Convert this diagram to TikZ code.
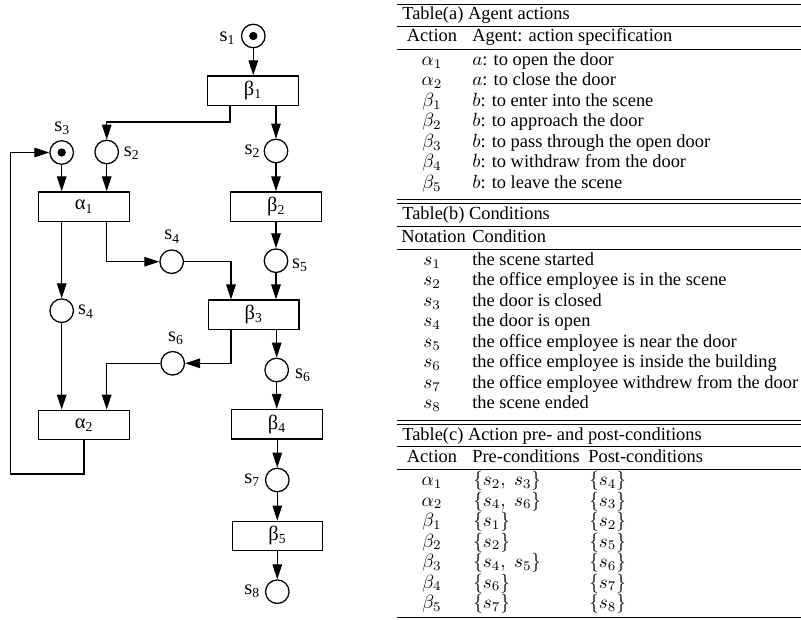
\RequirePackage{fix-cm}
\documentclass[tikz,border=0pt]{standalone}
\usepackage[no-math]{fontspec}
\setmainfont{Liberation Serif}
\DeclareMathSizes{10.8}{11.2}{7.8}{5.8}
\usetikzlibrary{arrows.meta,calc}
\begin{document}
\begin{tikzpicture}[x=0.58651pt,y=-0.58651pt,
  place/.style={circle,draw,line width=0.75pt,minimum size=13.8pt,inner sep=0pt},
  token/.style={circle,fill=black,minimum size=4.9pt,inner sep=0pt},
  trans/.style={rectangle,draw,line width=0.75pt,minimum width=53.2pt,minimum height=17.3pt,inner sep=0pt,font=\fontsize{12}{14}\selectfont},
  lab/.style={inner sep=0pt,font=\fontsize{12}{14}\selectfont},
  arr/.style={-{Triangle[length=8.8pt,width=5.6pt]},line width=0.75pt},
  tl/.style={anchor=base west,inner sep=0pt,font=\fontsize{10.8}{13}\selectfont},
  tc/.style={anchor=base,inner sep=0pt,font=\fontsize{10.8}{13}\selectfont},
  rl/.style={line width=0.45pt}]
\useasboundingbox (0,0) rectangle (801,620);
% ---------- net ----------
\node[place] (s1) at (253.3,36) {};
\node[token] (t1) at (s1) {};
\node[lab] (ls1) at (227.5,38) {s\textsubscript{1}};
\node[trans] (b1) at (253,90.7) {β\textsubscript{1}};
\node[place] (s2L) at (106.7,152) {};
\node[lab] (ls2L) at (131.7,153) {s\textsubscript{2}};
\node[place] (s2R) at (276,151) {};
\node[lab] (ls2R) at (252.5,151) {s\textsubscript{2}};
\node[place] (s3) at (61.7,152.5) {};
\node[token] (t3) at (s3) {};
\node[lab] (ls3) at (62.3,128.5) {s\textsubscript{3}};
\node[trans] (a1) at (84,206.7) {α\textsubscript{1}};
\node[trans] (b2) at (276.2,206.7) {β\textsubscript{2}};
\node[place] (s4R) at (171.7,261.7) {};
\node[lab] (ls4R) at (172.3,236.7) {s\textsubscript{4}};
\node[place] (s5) at (276,260.7) {};
\node[lab] (ls5) at (300,265) {s\textsubscript{5}};
\node[place] (s4L) at (61.7,310.7) {};
\node[lab] (ls4L) at (86,311.7) {s\textsubscript{4}};
\node[trans] (b3) at (253.7,314.8) {β\textsubscript{3}};
\node[place] (s6L) at (172.7,363.3) {};
\node[lab] (ls6L) at (176,338.3) {s\textsubscript{6}};
\node[place] (s6R) at (276.7,370) {};
\node[lab] (ls6R) at (303,375) {s\textsubscript{6}};
\node[trans] (a2) at (84,425) {α\textsubscript{2}};
\node[trans] (b4) at (277,424.3) {β\textsubscript{4}};
\node[place] (s7) at (277.3,480) {};
\node[lab] (ls7) at (252.3,480) {s\textsubscript{7}};
\node[trans] (b5) at (277.5,535.9) {β\textsubscript{5}};
\node[place] (s8) at (277.3,591.7) {};
\node[lab] (ls8) at (252.3,591) {s\textsubscript{8}};
% connectors
\draw[arr] (s1) -- (s1 |- b1.north);
\draw[arr] (b1.south -| 230,0) |- (0,122 -| s2L) -- (s2L);
\draw[arr] (b1.south -| s2R) -- (s2R);
\draw[arr] (s3) -- (s3 |- a1.north);
\draw[arr] (s2L) -- (s2L |- a1.north);
\draw[arr] (s2R) -- (s2R |- b2.north);
\draw[arr] (a1.south -| s4L) -- (s4L);
\draw[arr] (a1.south -| s2L) |- (s4R);
\draw[arr] (s4R) -| (b3.north -| 231,0);
\draw[arr] (b2.south -| s5) -- (s5);
\draw[arr] (s5) -- (s5 |- b3.north);
\draw[arr] (s4L) -- (s4L |- a2.north);
\draw[arr] (b3.south -| 231,0) |- (s6L);
\draw[arr] (s6L) -| (a2.north -| s2L);
\draw[arr] (b3.south -| s6R) -- (s6R);
\draw[arr] (s6R) -- (s6R |- b4.north);
\draw[arr] (a2.south) |- (10.7,474) |- (s3);
\draw[arr] (b4.south -| s7) -- (s7);
\draw[arr] (s7) -- (s7 |- b5.north);
\draw[arr] (b5.south -| s8) -- (s8);
% ---------- tables ----------
% Table (a)
\draw[rl] (397,4) -- (801,4);
\node[tl] (ta) at (402,19.5) {Table(a) Agent actions};
\draw[rl] (397,26.7) -- (801,26.7);
\node[tc] (ha1) at (432,42) {Action};
\node[tl] (ha2) at (472,42) {Agent: action specification};
\draw[rl] (397,49.3) -- (801,49.3);
\node[tc] (a1c) at (432,65.3) {$\alpha_1$};
\node[tl] (a1d) at (472,65.3) {$a$: to open the door};
\node[tc] (a2c) at (432,85.8) {$\alpha_2$};
\node[tl] (a2d) at (472,85.8) {$a$: to close the door};
\node[tc] (b1c) at (432,106.3) {$\beta_1$};
\node[tl] (b1d) at (472,106.3) {$b$: to enter into the scene};
\node[tc] (b2c) at (432,126.8) {$\beta_2$};
\node[tl] (b2d) at (472,126.8) {$b$: to approach the door};
\node[tc] (b3c) at (432,147.3) {$\beta_3$};
\node[tl] (b3d) at (472,147.3) {$b$: to pass through the open door};
\node[tc] (b4c) at (432,167.8) {$\beta_4$};
\node[tl] (b4d) at (472,167.8) {$b$: to withdraw from the door};
\node[tc] (b5c) at (432,188.3) {$\beta_5$};
\node[tl] (b5d) at (472,188.3) {$b$: to leave the scene};
\draw[rl] (397,199.6) -- (801,199.6);
\draw[rl] (397,203.0) -- (801,203.0);
% Table (b)
\node[tl] (tb) at (402,219.5) {Table(b) Conditions};
\draw[rl] (397,226.2) -- (801,226.2);
\node[tl] (hb1) at (401,242.5) {Notation};
\node[tl] (hb2) at (472,242.5) {Condition};
\draw[rl] (397,249.3) -- (801,249.3);
\node[tc] (c1) at (432,265.3) {$s_1$};
\node[tl] (d1) at (472,265.3) {the scene started};
\node[tc] (c2) at (432,285.8) {$s_2$};
\node[tl] (d2) at (472,285.8) {the office employee is in the scene};
\node[tc] (c3) at (432,306.3) {$s_3$};
\node[tl] (d3) at (472,306.3) {the door is closed};
\node[tc] (c4) at (432,326.8) {$s_4$};
\node[tl] (d4) at (472,326.8) {the door is open};
\node[tc] (c5) at (432,347.3) {$s_5$};
\node[tl] (d5) at (472,347.3) {the office employee is near the door};
\node[tc] (c6) at (432,367.8) {$s_6$};
\node[tl] (d6) at (472,367.8) {the office employee is inside the building};
\node[tc] (c7) at (432,388.3) {$s_7$};
\node[tl] (d7) at (472,388.3) {the office employee withdrew from the door};
\node[tc] (c8) at (432,408.8) {$s_8$};
\node[tl] (d8) at (472,408.8) {the scene ended};
\draw[rl] (397,420.6) -- (801,420.6);
\draw[rl] (397,424.0) -- (801,424.0);
% Table (c)
\node[tl] (tcc) at (402,440.3) {Table(c) Action pre- and post-conditions};
\draw[rl] (397,446.8) -- (801,446.8);
\node[tc] (hc1) at (432,463) {Action};
\node[tl] (hc2) at (472,463) {Pre-conditions};
\node[tl] (hc3) at (588,463) {Post-conditions};
\draw[rl] (397,469.6) -- (801,469.6);
\node[tc] (e1) at (432,485.6) {$\alpha_1$};
\node[tl] (f1) at (473,485.6) {$\{s_2,\; s_3\}$};
\node[tl] (g1) at (589,485.6) {$\{s_4\}$};
\node[tc] (e2) at (432,506.1) {$\alpha_2$};
\node[tl] (f2) at (473,506.1) {$\{s_4,\; s_6\}$};
\node[tl] (g2) at (589,506.1) {$\{s_3\}$};
\node[tc] (e3) at (432,526.6) {$\beta_1$};
\node[tl] (f3) at (473,526.6) {$\{s_1\}$};
\node[tl] (g3) at (589,526.6) {$\{s_2\}$};
\node[tc] (e4) at (432,547.1) {$\beta_2$};
\node[tl] (f4) at (473,547.1) {$\{s_2\}$};
\node[tl] (g4) at (589,547.1) {$\{s_5\}$};
\node[tc] (e5) at (432,567.6) {$\beta_3$};
\node[tl] (f5) at (473,567.6) {$\{s_4,\; s_5\}$};
\node[tl] (g5) at (589,567.6) {$\{s_6\}$};
\node[tc] (e6) at (432,588.1) {$\beta_4$};
\node[tl] (f6) at (473,588.1) {$\{s_6\}$};
\node[tl] (g6) at (589,588.1) {$\{s_7\}$};
\node[tc] (e7) at (432,608.6) {$\beta_5$};
\node[tl] (f7) at (473,608.6) {$\{s_7\}$};
\node[tl] (g7) at (589,608.6) {$\{s_8\}$};
\draw[rl] (397,617.8) -- (801,617.8);
\end{tikzpicture}
\end{document}
